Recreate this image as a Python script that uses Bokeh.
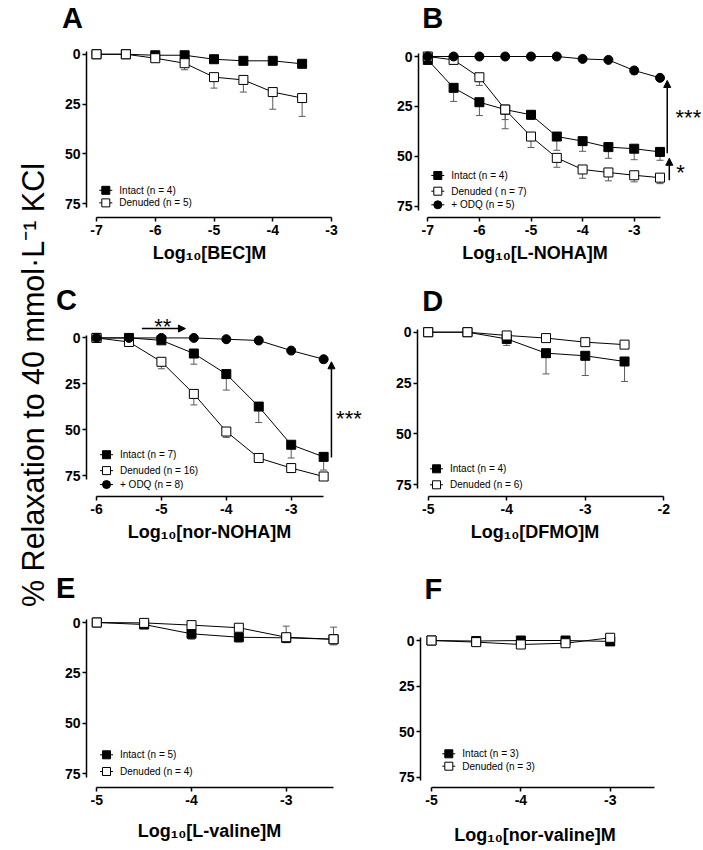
import math
from bokeh.plotting import figure
from bokeh.models import Range1d, FixedTicker, Label, Arrow, NormalHead
from bokeh.core.properties import value
from bokeh.layouts import row, column
from bokeh.embed import file_html
from bokeh.resources import INLINE

FONT = "Liberation Sans"
ERR = "#5a5a5a"

# ---------------- data ----------------
y_ticks = [0, 25, 50, 75]

# A: BEC
A_x = [-7, -6.5, -6, -5.5, -5, -4.5, -4, -3.5]
A_intact = [0, 0, 0.5, 0.5, 2.5, 3.3, 3.3, 4.8]
A_intact_err = [0, 0, 1.2, 1.5, 3.5, 4.3, 4.5, 6.0]
A_denuded = [0, 0, 2.0, 4.5, 11.5, 12.9, 19.0, 22.0]
A_denuded_err = [0, 0, 3.8, 7.8, 17.0, 19.0, 27.6, 31.2]
A_xticks = [-7, -6, -5, -4, -3]
A_labels = ["Intact (n = 4)", "Denuded (n = 5)"]

# B: L-NOHA
B_x = [-7, -6.5, -6, -5.5, -5, -4.5, -4, -3.5, -3, -2.5]
B_intact = [1.7, 15.7, 22.9, 26.6, 29.2, 40.1, 42.4, 45.4, 46.2, 47.8]
B_intact_err = [3.0, 22.5, 29.6, 31.6, 31.5, 47.0, 47.5, 51.0, 51.7, 52.0]
B_denuded = [0, 1.7, 10.4, 26.6, 40.1, 50.8, 56.6, 58.1, 59.5, 60.7]
B_denuded_err = [0, 3.0, 14.5, 36.2, 45.6, 55.5, 61.0, 62.3, 62.8, 63.7]
B_odq = [0, 0, 0, 0, 0, 0, 1.2, 1.7, 7.0, 10.7]
B_odq_err = [0, 0, 0, 0, 0, 0, 1.5, 2.5, 8.8, 11.5]
B_xticks = [-7, -6, -5, -4, -3]
B_labels = ["Intact (n = 4)", "Denuded ( n = 7)", "+ ODQ (n = 5)"]

# C: nor-NOHA
C_x = [-6, -5.5, -5, -4.5, -4, -3.5, -3, -2.5]
C_intact = [0, 0, 1.3, 8.5, 19.7, 37.4, 58.2, 64.8]
C_intact_err = [0, 0, 2.0, 14.3, 28.4, 46.1, 65.4, 72.0]
C_denuded = [0, 2.2, 13.0, 30.5, 51.0, 65.4, 70.9, 75.5]
C_denuded_err = [0, 3.0, 16.8, 36.5, 54.2, 67.6, 73.2, 76.5]
C_odq = [0, 0, 0, 0, 0.7, 1.4, 6.9, 11.6]
C_odq_err = [0, 0, 0, 0, 1.0, 2.0, 7.5, 13.5]
C_xticks = [-6, -5, -4, -3]
C_labels = ["Intact (n = 7)", "Denuded (n = 16)", "+ ODQ (n = 8)"]

# D: DFMO
D_x = [-5, -4.5, -4, -3.5, -3, -2.5]
D_intact = [0, 0, 3.3, 10.3, 11.6, 14.4]
D_intact_err = [0, 0, 6.5, 20.5, 21.3, 24.2]
D_denuded = [0, 0, 1.6, 2.9, 4.9, 6.1]
D_denuded_err = [0, 0, 2.0, 3.5, 5.5, 6.8]
D_xticks = [-5, -4, -3, -2]
D_labels = ["Intact (n = 4)", "Denuded (n = 6)"]

# E: L-valine
E_x = [-5, -4.5, -4, -3.5, -3, -2.5]
E_intact = [0, 1.0, 5.6, 7.3, 7.6, 8.3]
E_intact_err = [0, 1.5, 8.3, 9.7, 10.0, 11.1]
E_denuded = [0, 0.2, 1.3, 2.6, 7.3, 8.3]
E_denuded_err = [0, 0.2, 1.0, 2.2, 1.8, 2.3]
E_xticks = [-5, -4, -3]
E_labels = ["Intact (n = 5)", "Denuded (n = 4)"]

# F: nor-valine
F_x = [-5, -4.5, -4, -3.5, -3]
F_intact = [0, 0.3, 0, 0, 0.5]
F_intact_err = [0, 0.3, 0, 0, 0.5]
F_denuded = [0, 0.9, 2.2, 1.5, -1.5]
F_denuded_err = [0, 0.9, 2.2, 1.5, -1.5]
F_xticks = [-5, -4, -3]
F_labels = ["Intact (n = 3)", "Denuded (n = 3)"]

Y_LABEL = "% Relaxation to 40 mmol\u00b7L\u207b\u00b9 KCl"


class Panel:
    def __init__(self, box, yaxis_px, xaxis_py, xcal, ycal, xbounds, xticks,
                 xlabel, letter, letter_px, title_standoff):
        fx0, fy0, fw, fh = box
        (xa, pxa), (xb, pxb) = xcal
        (ya, pya), (yb, pyb) = ycal
        self.kx = (xb - xa) / (pxb - pxa)
        self.ky = (yb - ya) / (pyb - pya)
        self.fx = lambda px: xa + (px - pxa) * self.kx
        self.fy = lambda py: ya + (py - pya) * self.ky
        fx, fy = self.fx, self.fy

        p = figure(width=fw, height=fh, output_backend="svg", toolbar_location=None,
                   title=None,
                   x_range=Range1d(fx(fx0), fx(fx0 + fw)),
                   y_range=Range1d(fy(xaxis_py), fy(fy0)),
                   min_border_left=0, min_border_right=0,
                   min_border_top=0, min_border_bottom=fy0 + fh - xaxis_py)
        p.outline_line_color = None
        p.xgrid.visible = False
        p.ygrid.visible = False

        for ax in (p.xaxis[0], p.yaxis[0]):
            ax.axis_line_width = 1.5
            ax.axis_line_color = "black"
            ax.major_tick_line_width = 1.5
            ax.major_tick_line_color = "black"
            ax.major_tick_out = 4
            ax.major_tick_in = 0
            ax.minor_tick_line_color = None
            ax.major_label_text_font = FONT
            ax.major_label_text_font_style = "bold"
            ax.major_label_text_font_size = "14px"
            ax.major_label_text_color = "black"

        xa_ = p.xaxis[0]
        xa_.bounds = xbounds
        xa_.ticker = FixedTicker(ticks=xticks)
        xa_.major_label_overrides = {t: str(t) for t in xticks}
        xa_.major_label_standoff = 3
        xa_.axis_label = xlabel
        xa_.axis_label_text_font = FONT
        xa_.axis_label_text_font_style = "bold"
        xa_.axis_label_text_font_size = "18px"
        xa_.axis_label_text_color = "black"
        xa_.axis_label_standoff = title_standoff

        ya_ = p.yaxis[0]
        ya_.fixed_location = fx(yaxis_px)
        ya_.bounds = (-1.5, 77)
        ya_.ticker = FixedTicker(ticks=y_ticks)
        ya_.major_label_overrides = {t: str(t) for t in y_ticks}
        ya_.major_label_standoff = 2

        lx, ly = letter_px
        p.add_layout(Label(x=fx(lx), y=fy(ly), text=letter, text_font=FONT,
                           text_font_style="bold", text_font_size="29px",
                           text_align="left", text_baseline="middle",
                           text_color="black"))
        self.p = p

    def errors(self, x, y, err):
        self.p.segment(x0=x, y0=y, x1=x, y1=err, line_color=ERR, line_width=1)
        self.p.scatter(x=x, y=err, marker="dash", size=7, line_color=ERR, line_width=1)

    def series(self, x, y, marker, fill):
        self.p.line(x, y, line_color="black", line_width=1)
        self.p.scatter(x, y, marker=marker, size=9, fill_color=fill,
                       line_color="black", line_width=1)

    def legend(self, labels, markers, fills, cx_px, rows_px):
        fx, fy = self.fx, self.fy
        for lab, mk, fl, ry in zip(labels, markers, fills, rows_px):
            self.p.segment(x0=[fx(cx_px - 6.5)], y0=[fy(ry)], x1=[fx(cx_px + 6.5)],
                           y1=[fy(ry)], line_color="black", line_width=1)
            self.p.scatter(x=[fx(cx_px)], y=[fy(ry)], marker=mk, size=8,
                           fill_color=fl, line_color="black", line_width=1)
            self.p.text(x=[fx(cx_px + 13.5)], y=[fy(ry)], text=[lab],
                        text_font=value(FONT), text_font_size=value("10px"),
                        text_baseline="middle", text_align="left", text_color="black")

    def note(self, x, y, text, size="22px"):
        self.p.add_layout(Label(x=x, y=y, text=text, text_font=FONT, text_font_size=size,
                                text_align="center", text_baseline="middle",
                                text_color="black"))

    def arrow(self, x0, y0, x1, y1):
        self.p.add_layout(Arrow(x_start=x0, y_start=y0, x_end=x1, y_end=y1,
                                line_color="black", line_width=1.5,
                                end=NormalHead(size=7, fill_color="black",
                                               line_color="black")))


# ---------------- panel A ----------------
A = Panel((50, 0, 318, 278), 86, 218, ((-7, 96), (-3, 331)),
          ((0, 54), (75, 204)), (-7, -3), A_xticks,
          "Log\u2081\u2080[BEC]M", "A", (61.5, 17.2), 5)
A.errors(A_x, A_intact, A_intact_err)
A.errors(A_x, A_denuded, A_denuded_err)
A.series(A_x, A_intact, "square", "black")
A.series(A_x, A_denuded, "square", "white")
A.legend(A_labels, ["square", "square"], ["black", "white"], 105.3, [190.7, 203.3])

# ---------------- panel B ----------------
B = Panel((368, 0, 333, 278), 418, 217, ((-7, 427.3), (-3, 633.7)),
          ((0, 56), (75, 205.7)), (-7, -2.5), B_xticks,
          "Log\u2081\u2080[L-NOHA]M", "B", (421.7, 17.8), 5)
B.errors(B_x, B_intact, B_intact_err)
B.errors(B_x, B_denuded, B_denuded_err)
B.errors(B_x, B_odq, B_odq_err)
B.series(B_x, B_intact, "square", "black")
B.series(B_x, B_denuded, "square", "white")
B.series(B_x, B_odq, "circle", "black")
B.legend(B_labels, ["square", "square", "circle"], ["black", "white", "black"],
         437.3, [175, 190.7, 204.3])
B.arrow(-2.36, B_intact[-1] + 0.7, -2.36, 12)
B.arrow(-2.32, 62, -2.32, 51)
B.note(-1.95, 30.4, "***")
B.note(-2.10, 58.0, "*")

# ---------------- panel C ----------------
C = Panel((50, 278, 318, 287), 86, 497, ((-6, 96), (-3, 290.7)),
          ((0, 337.7), (75, 476)), (-6, -2.5), C_xticks,
          "Log\u2081\u2080[nor-NOHA]M", "C", (55.5, 299.5), 5)
C.errors(C_x, C_intact, C_intact_err)
C.errors(C_x, C_denuded, C_denuded_err)
C.errors(C_x, C_odq, C_odq_err)
C.series(C_x, C_intact, "square", "black")
C.series(C_x, C_denuded, "square", "white")
C.series(C_x, C_odq, "circle", "black")
C.legend(C_labels, ["square", "square", "circle"], ["black", "white", "black"],
         106, [455, 471, 485])
C.arrow(-2.38, 65.2, -2.38, 13)
C.arrow(-5.30, -5.1, -4.63, -5.1)
C.note(-2.11, 44.1, "***")
C.note(-4.98, -6.0, "**")

# ---------------- panel D ----------------
D = Panel((368, 278, 333, 287), 417, 496, ((-5, 427.7), (-2, 663.3)),
          ((0, 331.7), (75, 484.3)), (-5, -2), D_xticks,
          "Log\u2081\u2080[DFMO]M", "D", (421.7, 300), 5)
D.errors(D_x, D_intact, D_intact_err)
D.errors(D_x, D_denuded, D_denuded_err)
D.series(D_x, D_intact, "square", "black")
D.series(D_x, D_denuded, "square", "white")
D.legend(D_labels, ["square", "square"], ["black", "white"], 436, [468.3, 484.3])

# ---------------- panel E ----------------
E = Panel((50, 565, 318, 283), 86, 787, ((-5, 96.3), (-3, 285.7)),
          ((0, 622), (75, 773.3)), (-5, -2.5), E_xticks,
          "Log\u2081\u2080[L-valine]M", "E", (55.5, 587), 13)
E.errors(E_x, E_intact, E_intact_err)
E.errors(E_x, E_denuded, E_denuded_err)
E.series(E_x, E_intact, "square", "black")
E.series(E_x, E_denuded, "square", "white")
E.legend(E_labels, ["square", "square"], ["black", "white"], 106, [754.3, 771])

# ---------------- panel F ----------------
F = Panel((368, 565, 333, 283), 420, 787, ((-5, 431), (-3, 609.7)),
          ((0, 640), (75, 776.7)), (-5, -2.5), F_xticks,
          "Log\u2081\u2080[nor-valine]M", "F", (424, 588), 17)
F.errors(F_x, F_intact, F_intact_err)
F.errors(F_x, F_denuded, F_denuded_err)
F.series(F_x, F_intact, "square", "black")
F.series(F_x, F_denuded, "square", "white")
F.legend(F_labels, ["square", "square"], ["black", "white"], 448.3, [753.3, 765.7])

# ---------------- shared y label ----------------
pL = figure(width=50, height=848, output_backend="svg", toolbar_location=None,
            title=None, x_range=Range1d(0, 50), y_range=Range1d(848, 0),
            x_axis_type=None, y_axis_type=None, min_border=0)
pL.outline_line_color = None
pL.xgrid.visible = False
pL.ygrid.visible = False
pL.add_layout(Label(x=32, y=384.5, text=Y_LABEL, angle=math.pi / 2,
                    text_font=FONT, text_font_size="30.5px", text_align="center",
                    text_baseline="middle", text_color="black"))

layout = row(pL, column(row(A.p, B.p), row(C.p, D.p), row(E.p, F.p)))

open("out.html", "w").write(file_html(layout, INLINE))
